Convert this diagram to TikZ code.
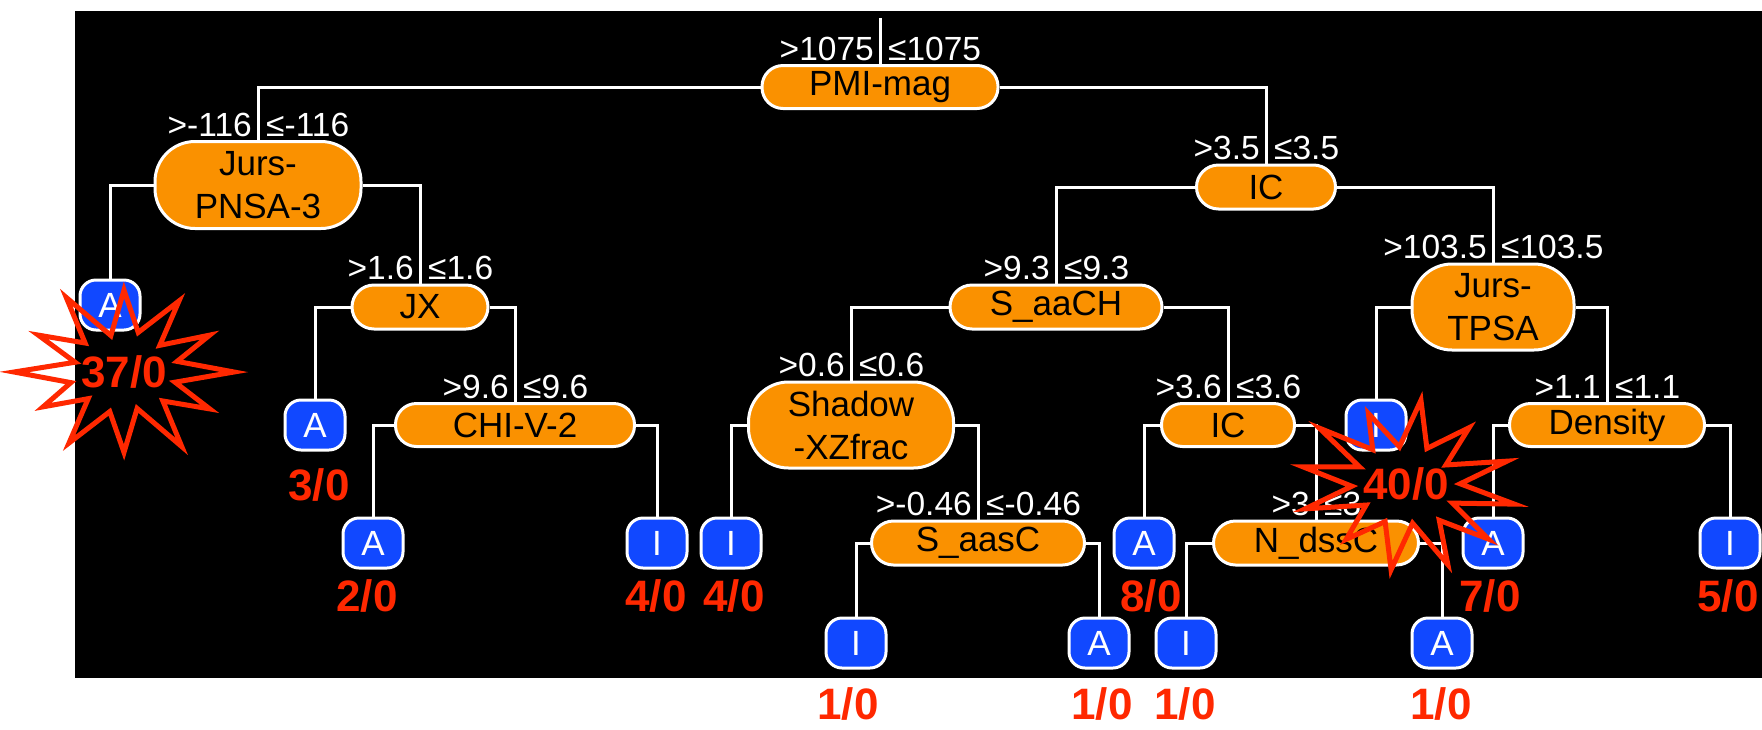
\documentclass[tikz,border=0pt]{standalone}
\usepackage{fontspec}
\setmainfont{Liberation Sans}
\definecolor{splitorange}{RGB}{250,145,0}
\definecolor{leafblue}{RGB}{17,72,255}
\definecolor{countred}{RGB}{255,40,0}

\tikzset{
  wire/.style={draw=white, line width=3pt},
  splitnode/.style n args={3}{draw=white, line width=3pt, fill=splitorange,
    text=black, inner sep=0pt, align=center, font=\fontsize{35}{43}\selectfont,
    minimum width=#1, minimum height=#2, rounded corners=#3},
  leafnode/.style={draw=white, line width=3pt, fill=leafblue, text=white,
    inner sep=0pt, minimum width=60pt, minimum height=50pt, rounded corners=16pt,
    font=\fontsize{35}{37}\selectfont},
  edgelbl/.style={text=white, inner sep=0pt, font=\fontsize{33.5}{35}\selectfont},
  tally/.style={text=countred, inner sep=0pt, font=\bfseries\fontsize{44}{46}\selectfont},
  burst/.style={draw=countred, line width=5pt, line join=miter, miter limit=20}
}

% threshold labels either side of the wire entering a split node
\newcommand\cutlabels[3]{%
  \node[edgelbl, anchor=base east] (#1-gt) at ([xshift=-6pt,yshift=4pt]#1.north) {>#2};
  \node[edgelbl, anchor=base west] (#1-le) at ([xshift=8pt,yshift=4pt]#1.north) {≤#3};}

\begin{document}
\begin{tikzpicture}[x=1pt, y=-1pt]
\useasboundingbox (0,0) rectangle (1762,729);
\fill[white] (0,0) rectangle (1762,729);
\fill[black] (75,11) rectangle (1762,678);

% split nodes
\node[splitnode={236pt}{43pt}{21pt}] (pmi) at (880,87) {PMI-mag};
\node[splitnode={206pt}{87pt}{40pt}] (jurs1) at (258,185) {Jurs-\\PNSA-3};
\node[splitnode={139pt}{44pt}{22pt}] (ic1) at (1266,187) {IC};
\node[splitnode={136pt}{44pt}{22pt}] (jx) at (420,307) {JX};
\node[splitnode={212pt}{44pt}{22pt}] (saach) at (1056,307) {S\_aaCH};
\node[splitnode={162pt}{86pt}{40pt}] (jtpsa) at (1493,307) {Jurs-\\TPSA};
\node[splitnode={239pt}{43pt}{21pt}] (chi) at (515,425) {CHI-V-2};
\node[splitnode={205pt}{86pt}{40pt}] (shadow) at (851,425) {Shadow\\-XZfrac};
\node[splitnode={133pt}{43pt}{21pt}] (ic2) at (1228,425) {IC};
\node[splitnode={195pt}{43pt}{21pt}] (density) at (1607,425) {Density};
\node[splitnode={213pt}{44pt}{22pt}] (saasc) at (978,543) {S\_aasC};
\node[splitnode={205pt}{44pt}{22pt}] (ndssc) at (1316,543) {N\_dssC};

% leaves
\node[leafnode] (la1) at (110,305) {A};
\node[leafnode] (la2) at (315,425) {A};
\node[leafnode] (li1) at (1376,425) {I};
\node[leafnode] (la3) at (373,543) {A};
\node[leafnode] (li2) at (657,543) {I};
\node[leafnode] (li3) at (731,543) {I};
\node[leafnode] (la4) at (1144,543) {A};
\node[leafnode] (la5) at (1493,543) {A};
\node[leafnode] (li4) at (1730,543) {I};
\node[leafnode] (li5) at (856,643) {I};
\node[leafnode] (la6) at (1099,643) {A};
\node[leafnode] (li6) at (1186,643) {I};
\node[leafnode] (la7) at (1442,643) {A};

% wiring
\coordinate (rootstub) at (880,18);
\draw[wire] (rootstub) -- (pmi.north);
\draw[wire] (pmi.west) -| (jurs1.north);
\draw[wire] (pmi.east) -| (ic1.north);
\draw[wire] (jurs1.west) -| (la1.north);
\draw[wire] (jurs1.east) -| (jx.north);
\draw[wire] (jx.west) -| (la2.north);
\draw[wire] (jx.east) -| (chi.north);
\draw[wire] (chi.west) -| (la3.north);
\draw[wire] (chi.east) -| (li2.north);
\draw[wire] (ic1.west) -| (saach.north);
\draw[wire] (ic1.east) -| (jtpsa.north);
\draw[wire] (saach.west) -| (shadow.north);
\draw[wire] (saach.east) -| (ic2.north);
\draw[wire] (shadow.west) -| (li3.north);
\draw[wire] (shadow.east) -| (saasc.north);
\draw[wire] (saasc.west) -| (li5.north);
\draw[wire] (saasc.east) -| (la6.north);
\draw[wire] (ic2.west) -| (la4.north);
\draw[wire] (ic2.east) -| (ndssc.north);
\draw[wire] (ndssc.west) -| (li6.north);
\draw[wire] (ndssc.east) -| (la7.north);
\draw[wire] (jtpsa.west) -| (li1.north);
\draw[wire] (jtpsa.east) -| (density.north);
\draw[wire] (density.west) -| (la5.north);
\draw[wire] (density.east) -| (li4.north);

% thresholds
\cutlabels{pmi}{1075}{1075}
\cutlabels{jurs1}{-116}{-116}
\cutlabels{jx}{1.6}{1.6}
\cutlabels{chi}{9.6}{9.6}
\cutlabels{ic1}{3.5}{3.5}
\cutlabels{saach}{9.3}{9.3}
\cutlabels{shadow}{0.6}{0.6}
\cutlabels{saasc}{-0.46}{-0.46}
\cutlabels{ic2}{3.6}{3.6}
\cutlabels{ndssc}{3}{3}
\cutlabels{jtpsa}{103.5}{103.5}
\cutlabels{density}{1.1}{1.1}

% class counts
\node[tally] (c-la2) at (319,485) {3/0};
\node[tally] (c-la3) at (367,596) {2/0};
\node[tally] (c-li2) at (656,596) {4/0};
\node[tally] (c-li3) at (734,596) {4/0};
\node[tally] (c-la4) at (1151,596) {8/0};
\node[tally] (c-la5) at (1490,596) {7/0};
\node[tally] (c-li4) at (1728,596) {5/0};
\node[tally] (c-li5) at (848,704) {1/0};
\node[tally] (c-la6) at (1102,704) {1/0};
\node[tally] (c-li6) at (1185,704) {1/0};
\node[tally] (c-la7) at (1441,704) {1/0};

% explosion bursts around the two big counts
\begin{scope}[shift={(124,372)}]
\draw[burst] (110,0)
  \foreach \a/\r in {15/0.48,30/0.9,45/0.5,60/1.05,75/0.46,90/0.98,105/0.5,
    120/1.0,135/0.46,150/0.85,165/0.5,180/1.0,195/0.46,210/0.9,225/0.5,
    240/1.05,255/0.46,270/1.0,285/0.5,300/1.0,315/0.46,330/0.9,345/0.5}
  { -- ({110*\r*cos(\a)},{82*\r*sin(\a)}) } -- cycle;
\end{scope}
\node[tally] (c-la1) at (124,372) {37/0};

\begin{scope}[shift={(1406,485)}, rotate=-10]
\draw[burst] (110,0)
  \foreach \a/\r in {15/0.46,30/0.95,45/0.5,60/1.0,75/0.46,90/1.05,105/0.5,
    120/0.9,135/0.46,150/1.0,165/0.5,180/0.95,195/0.46,210/1.0,225/0.5,
    240/0.9,255/0.46,270/1.05,285/0.5,300/0.95,315/0.46,330/1.0,345/0.5}
  { -- ({110*\r*cos(\a)},{82*\r*sin(\a)}) } -- cycle;
\end{scope}
\node[tally] (c-li1) at (1406,484) {40/0};
\end{tikzpicture}
\end{document}
